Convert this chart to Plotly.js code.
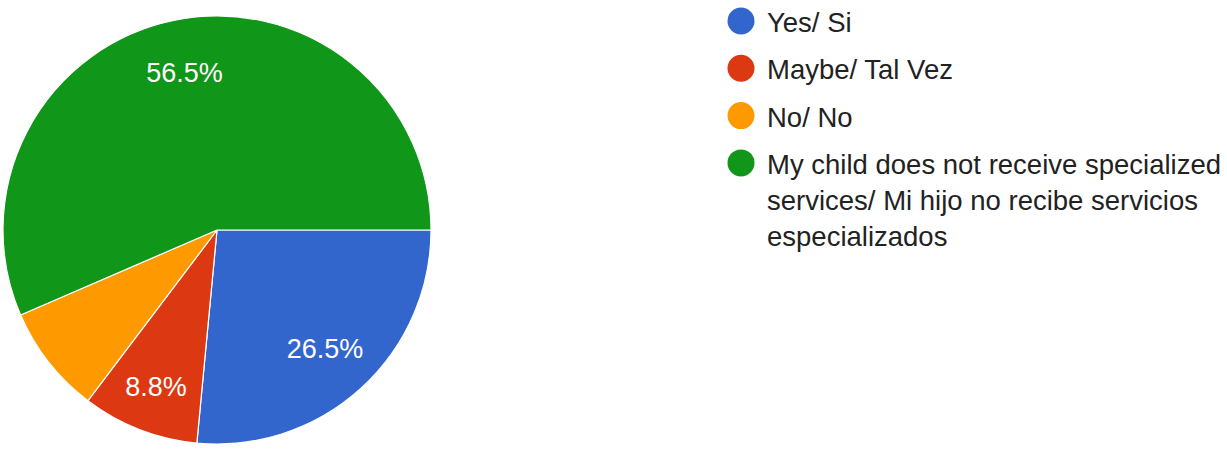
<!DOCTYPE html>
<html>
<head>
<meta charset="utf-8">
<script src="https://cdn.plot.ly/plotly-3.0.1.min.js"></script>
<style>
  html, body { margin: 0; padding: 0; background: #ffffff; }
  #chart { width: 1227px; height: 454px; }
</style>
</head>
<body>
<div id="chart"></div>
<script>
// ---- data ----
const labels = [
  "Yes/ Si",
  "Maybe/ Tal Vez",
  "No/ No",
  "My child does not receive specialized services/ Mi hijo no recibe servicios especializados"
];
const values = [26.5, 8.8, 8.2, 56.5];
const showLabel = [true, true, false, true];
const colors = ["#3366CC", "#DC3912", "#FF9900", "#109618"];

// ---- layout helpers ----
const W = 1227, H = 454;
const px = x => x / W;
const py = y => 1 - y / H;

function wrap(text, maxChars) {
  const words = text.split(" ");
  const lines = [];
  let cur = "";
  words.forEach(w => {
    const cand = cur ? cur + " " + w : w;
    if (cand.length > maxChars && cur) { lines.push(cur); cur = w; }
    else cur = cand;
  });
  if (cur) lines.push(cur);
  return lines.join("<br>");
}

const cx = 217, cy = 230, r = 214;
const domain = { x: [px(cx - r), px(cx + r)], y: [py(cy + r), py(cy - r)] };
const textFont = { family: "Liberation Sans, Arial, sans-serif", size: 27, color: "#ffffff" };

// the pie itself
const pie = {
  type: "pie",
  labels: labels,
  values: values,
  sort: false,
  direction: "clockwise",
  rotation: 90,
  marker: { colors: colors, line: { color: "#ffffff", width: 1.2 } },
  textinfo: "none",
  hoverinfo: "label+percent",
  domain: domain,
  showlegend: false
};

// transparent ring over the same slices, used only to place the percentage labels
const labelRing = {
  type: "pie",
  labels: labels,
  values: values,
  sort: false,
  direction: "clockwise",
  rotation: 90,
  hole: 0.5,
  marker: { colors: colors.map(() => "rgba(0,0,0,0)"), line: { width: 0 } },
  texttemplate: showLabel.map(s => s ? "%{percent:.1%}" : ""),
  textposition: "inside",
  insidetextorientation: "horizontal",
  textfont: textFont,
  hoverinfo: "skip",
  domain: domain,
  showlegend: false
};

const legendX = 741, legendTextX = 765, legendTop = 5, rowStep = 47.3;
const annotations = labels.map((lab, i) => ({
  xref: "paper", yref: "paper",
  x: px(legendTextX), y: py(legendTop + i * rowStep),
  xanchor: "left", yanchor: "top",
  align: "left",
  showarrow: false,
  text: wrap(lab, 37),
  font: { family: "Liberation Sans, Arial, sans-serif", size: 27.5, color: "#222222" }
}));
const shapes = labels.map((lab, i) => ({
  type: "circle",
  xref: "paper", yref: "paper",
  xsizemode: "pixel", ysizemode: "pixel",
  xanchor: px(legendX), yanchor: py(legendTop + i * rowStep + 16),
  x0: -13.5, x1: 13.5, y0: -13.5, y1: 13.5,
  fillcolor: colors[i],
  line: { width: 0 }
}));

const layout = {
  width: W, height: H,
  margin: { l: 0, r: 0, t: 0, b: 0 },
  paper_bgcolor: "#ffffff",
  plot_bgcolor: "#ffffff",
  showlegend: false,
  annotations: annotations,
  shapes: shapes
};

Plotly.newPlot("chart", [pie, labelRing], layout, { displayModeBar: false, staticPlot: true });
</script>
</body>
</html>
